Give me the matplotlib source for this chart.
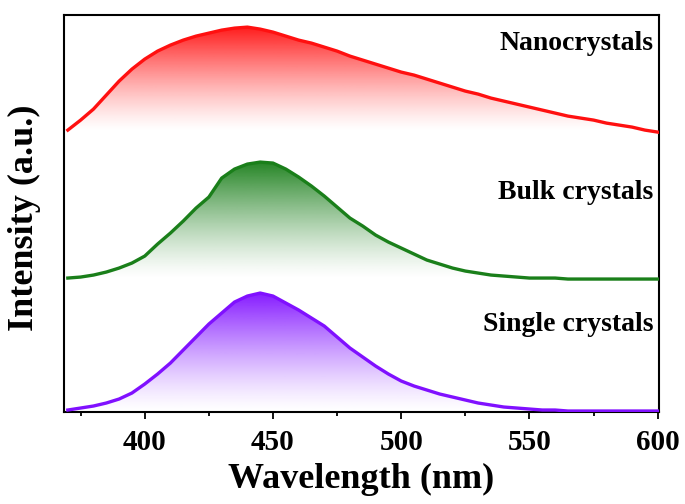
import numpy as np
import matplotlib
matplotlib.use("Agg")
import matplotlib.pyplot as plt
import matplotlib.colors as mcolors
from matplotlib.patches import Polygon

plt.rcParams['font.family'] = ['Liberation Serif', 'DejaVu Serif']
plt.rcParams['font.weight'] = 'bold'

# wavelength grid (nm)
wavelength = [370, 375, 380, 385, 390, 395, 400, 405, 410, 415, 420, 425, 430, 435, 440, 445,
              450, 455, 460, 465, 470, 475, 480, 485, 490, 495, 500, 505, 510, 515, 520, 525,
              530, 535, 540, 545, 550, 555, 560, 565, 570, 575, 580, 585, 590, 595, 600]

# PL intensity above each curve's own baseline (a.u.)
nano = [0.02, 0.12, 0.23, 0.37, 0.51, 0.63, 0.73, 0.81, 0.87, 0.92, 0.96, 0.99, 1.02, 1.04, 1.05, 1.03,
        1.00, 0.96, 0.92, 0.89, 0.85, 0.81, 0.76, 0.72, 0.68, 0.64, 0.60, 0.57, 0.53, 0.49, 0.45, 0.41,
        0.38, 0.34, 0.31, 0.28, 0.25, 0.22, 0.19, 0.16, 0.14, 0.12, 0.09, 0.07, 0.05, 0.02, 0.00]
bulk = [0.01, 0.02, 0.04, 0.07, 0.11, 0.16, 0.23, 0.35, 0.46, 0.58, 0.71, 0.82, 1.01, 1.10, 1.15, 1.17,
        1.16, 1.10, 1.02, 0.93, 0.83, 0.72, 0.61, 0.53, 0.44, 0.37, 0.31, 0.25, 0.19, 0.15, 0.11, 0.08,
        0.06, 0.04, 0.03, 0.02, 0.01, 0.01, 0.01, 0.00, 0.00, 0.00, 0.00, 0.00, 0.00, 0.00, 0.00]
single = [0.02, 0.04, 0.06, 0.09, 0.13, 0.19, 0.28, 0.38, 0.49, 0.62, 0.75, 0.88, 0.99, 1.10, 1.16, 1.19,
          1.16, 1.09, 1.02, 0.94, 0.86, 0.75, 0.64, 0.55, 0.46, 0.38, 0.31, 0.26, 0.22, 0.18, 0.15, 0.12,
          0.09, 0.07, 0.05, 0.04, 0.03, 0.02, 0.02, 0.01, 0.01, 0.01, 0.01, 0.01, 0.01, 0.01, 0.01]

names = ['Nanocrystals', 'Bulk crystals', 'Single crystals']
offsets = [2.80, 1.33, 0.0]
colors = ['#ff1010', '#1a7f1a', '#8010ff']
label_y = [3.69, 2.20, 0.88]


def gradient_fill(ax, x, y, base, color):
    ax.plot(x, y, color=color, lw=2.4, zorder=3)
    rgb = mcolors.to_rgb(color)
    img = np.zeros((200, 1, 4))
    img[:, :, :3] = rgb
    img[:, 0, 3] = np.linspace(0, 1, 200) ** 1.3 * 0.95
    im = ax.imshow(img, aspect='auto', origin='lower', zorder=2,
                   extent=[x.min(), x.max(), base, y.max()])
    verts = np.vstack([[x[0], base], np.column_stack([x, y]), [x[-1], base]])
    clip = Polygon(verts, closed=True, facecolor='none', edgecolor='none')
    ax.add_patch(clip)
    im.set_clip_path(clip)


fig = plt.figure(figsize=(6.85, 5.04), dpi=100)
ax = fig.add_axes([0.0934, 0.1825, 0.8686, 0.7875])

x = np.array(wavelength, dtype=float)
for vals, off, col, name, ly in zip([nano, bulk, single], offsets, colors, names, label_y):
    y = np.array(vals) + off
    gradient_fill(ax, x, y, off, col)
    ax.text(0.99, ly, name, transform=ax.get_yaxis_transform(), ha='right', va='center',
            fontsize=20, fontweight='bold')

ax.set_xlim(368.5, 600.5)
ax.set_ylim(0, 3.97)
ax.set_xticks([400, 450, 500, 550, 600])
ax.set_xticks([375, 425, 475, 525, 575], minor=True)
ax.set_yticks([])
ax.tick_params(axis='x', which='major', direction='out', length=5, width=1.3, labelsize=21, pad=7)
ax.tick_params(axis='x', which='minor', direction='out', length=3, width=1.3)
for s in ax.spines.values():
    s.set_linewidth(1.5)

ax.set_xlabel('Wavelength (nm)', fontsize=26, fontweight='bold', labelpad=5)
ax.set_ylabel('Intensity (a.u.)', fontsize=26, fontweight='bold', va='center')
ax.yaxis.set_label_coords(-0.066, 0.49)

fig.savefig('out.png', dpi=100)
